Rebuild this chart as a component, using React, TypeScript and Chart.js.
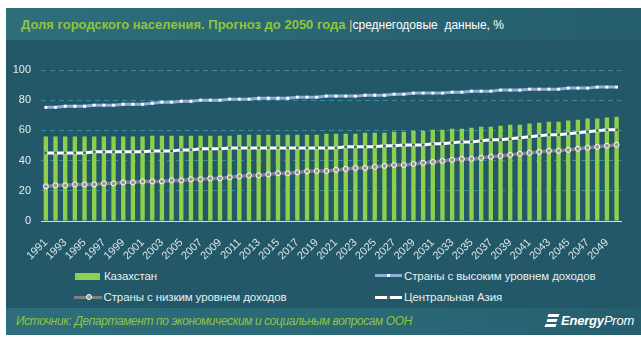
import React, { useEffect, useRef } from 'react';
import { Chart, registerables } from 'chart.js';

Chart.register(...registerables);

const years = [
  '1991','1992','1993','1994','1995','1996','1997','1998','1999','2000',
  '2001','2002','2003','2004','2005','2006','2007','2008','2009','2010',
  '2011','2012','2013','2014','2015','2016','2017','2018','2019','2020',
  '2021','2022','2023','2024','2025','2026','2027','2028','2029','2030',
  '2031','2032','2033','2034','2035','2036','2037','2038','2039','2040',
  '2041','2042','2043','2044','2045','2046','2047','2048','2049','2050',
];

const kazakhstan = [
  56.0, 56.0, 56.0, 56.0, 56.0, 56.0, 56.0, 56.0, 56.0, 56.0,
  56.0, 56.5, 56.5, 56.5, 56.5, 56.5, 56.5, 56.5, 56.5, 56.5,
  57.1, 57.1, 57.1, 57.1, 57.1, 57.1, 57.1, 57.1, 57.1, 57.8,
  57.8, 57.8, 57.8, 58.5, 58.5, 58.5, 59.1, 59.1, 59.8, 59.8,
  60.5, 60.5, 61.1, 61.1, 61.8, 62.5, 62.5, 63.1, 63.8, 63.8,
  64.5, 65.1, 65.8, 65.8, 66.5, 67.1, 67.8, 67.8, 68.5, 69.1,
];

const highIncome = [
  75.3, 75.3, 76.0, 76.0, 76.0, 76.7, 76.7, 76.7, 77.3, 77.3,
  77.3, 78.0, 78.7, 78.7, 79.3, 79.3, 80.0, 80.0, 80.0, 80.7,
  80.7, 80.7, 81.3, 81.3, 81.3, 81.3, 82.0, 82.0, 82.0, 82.7,
  82.7, 82.7, 82.7, 83.3, 83.3, 83.3, 84.0, 84.0, 84.7, 84.7,
  84.7, 84.7, 85.3, 85.3, 86.0, 86.0, 86.0, 86.7, 86.7, 86.7,
  87.3, 87.3, 87.3, 87.3, 88.0, 88.0, 88.0, 88.7, 88.7, 88.7,
];

const lowIncome = [
  22.9, 23.6, 23.6, 24.2, 24.2, 24.2, 24.9, 24.9, 25.6, 25.6,
  26.2, 26.2, 26.2, 26.9, 26.9, 27.6, 27.6, 28.2, 28.2, 28.9,
  29.6, 30.2, 30.2, 30.9, 31.6, 31.6, 32.2, 32.9, 33.1, 33.1,
  33.8, 34.5, 35.1, 35.1, 35.8, 36.5, 37.1, 37.1, 37.8, 38.5,
  39.1, 39.8, 40.5, 41.1, 41.1, 41.8, 42.5, 43.1, 43.8, 44.5,
  45.1, 45.8, 46.5, 46.5, 47.1, 47.8, 48.5, 49.1, 49.8, 50.5,
];

const centralAsia = [
  45.1, 45.1, 45.1, 45.1, 45.1, 45.8, 45.8, 45.8, 45.8, 45.8,
  45.8, 46.4, 46.4, 46.4, 47.1, 47.1, 47.8, 47.8, 47.8, 48.4,
  48.4, 48.4, 48.4, 48.4, 48.4, 48.4, 48.4, 48.4, 48.4, 48.4,
  48.4, 49.1, 49.1, 49.1, 49.1, 49.8, 49.8, 50.4, 50.4, 50.4,
  51.1, 51.1, 51.8, 52.4, 52.4, 53.1, 53.8, 53.8, 54.4, 55.1,
  55.8, 56.4, 57.1, 57.1, 57.8, 58.4, 59.1, 59.8, 60.4, 60.4,
];

const yTicks = [0, 20, 40, 60, 80, 100];

const seriesNames = [
  'Казахстан',
  'Страны с высоким уровнем доходов',
  'Страны с низким уровнем доходов',
  'Центральная Азия',
];

const FONT = '"Liberation Sans", Arial, sans-serif';
const BG = '#225868';
const GREEN = '#8fcf4c';
const HIGH = '#8eb0d8';
const LOW = '#7f7f7f';
const TXT = '#e8eef0';

function LineSwatch({ w, color, marker, markerBorder, round }: { w: number; color: string; marker: string; markerBorder?: string; round?: boolean }) {
  return (
    <div style={{ position: 'relative', width: w, height: 8 }}>
      <div style={{ position: 'absolute', left: 0, top: 2.5, width: w, height: 3, background: color }} />
      <div
        style={{
          position: 'absolute',
          left: round ? w / 2 - 2 : w / 2 - 1.5,
          top: round ? 1 : 2.5,
          width: round ? 4 : 3,
          height: round ? 4 : 3,
          borderRadius: round ? '50%' : 0,
          background: marker,
          border: markerBorder ? `1px solid ${markerBorder}` : 'none',
        }}
      />
    </div>
  );
}

export default function App() {
  const ref = useRef<HTMLCanvasElement>(null);

  useEffect(() => {
    const chart = new Chart(ref.current as HTMLCanvasElement, {
      type: 'bar',
      data: {
        labels: years,
        datasets: [
          {
            type: 'bar',
            label: seriesNames[0],
            data: kazakhstan,
            backgroundColor: GREEN,
            barPercentage: 0.45,
            categoryPercentage: 1,
            order: 2,
          },
          {
            type: 'line',
            label: seriesNames[1],
            data: highIncome,
            borderColor: HIGH,
            borderWidth: 3,
            pointStyle: 'rect',
            pointRadius: 2,
            pointBackgroundColor: '#ffffff',
            pointBorderWidth: 0,
            tension: 0,
            order: 1,
          },
          {
            type: 'line',
            label: seriesNames[2],
            data: lowIncome,
            borderColor: LOW,
            borderWidth: 3.5,
            pointStyle: 'circle',
            pointRadius: 2.5,
            pointBackgroundColor: '#9a9a9a',
            pointBorderColor: '#ffffff',
            pointBorderWidth: 1,
            tension: 0,
            order: 1,
          },
          {
            type: 'line',
            label: seriesNames[3],
            data: centralAsia,
            borderColor: '#ffffff',
            borderWidth: 3,
            pointStyle: 'rect',
            pointRadius: 2,
            pointBackgroundColor: '#3d6d7c',
            pointBorderWidth: 0,
            tension: 0,
            order: 1,
          },
        ],
      } as any,
      options: {
        animation: false,
        responsive: false,
        layout: { padding: { top: 22, right: 8, left: 0, bottom: 0 } },
        plugins: { legend: { display: false }, tooltip: { enabled: false } },
        scales: {
          x: {
            grid: { display: false, drawTicks: false },
            border: { color: '#d5dde0', width: 1 },
            ticks: {
              autoSkip: false,
              maxRotation: 45,
              minRotation: 45,
              padding: 15,
              color: '#dbe3e6',
              font: { size: 11, family: FONT },
              callback: (_v: any, i: number) => (i % 2 === 0 ? years[i] : ''),
            },
            afterFit: (s: any) => {
              s.height = 42;
            },
          },
          y: {
            min: 0,
            max: 100,
            afterBuildTicks: (s: any) => {
              s.ticks = yTicks.map((v) => ({ value: v }));
            },
            ticks: { padding: 10, color: TXT, font: { size: 11, family: FONT } },
            grid: {
              drawTicks: false,
              lineWidth: 1,
              color: (c: any) => (c.tick && c.tick.value === 0 ? 'rgba(0,0,0,0)' : '#3a8ca0'),
            },
            border: { display: false, dash: [5, 4] },
            afterFit: (s: any) => {
              s.width = 35;
            },
          },
        },
      } as any,
    });
    return () => chart.destroy();
  }, []);

  const legendText: React.CSSProperties = {
    position: 'absolute',
    fontFamily: FONT,
    fontSize: 11.5,
    color: TXT,
    letterSpacing: -0.1,
    whiteSpace: 'nowrap',
    lineHeight: '14px',
  };

  // container is at page (6, 8)
  return (
    <div
      style={{
        position: 'absolute',
        left: 6,
        top: 8,
        width: 635,
        height: 327,
        background: BG,
        overflow: 'hidden',
      }}
    >
      <div
        style={{
          position: 'absolute',
          left: 0,
          top: 0,
          width: 635,
          height: 32,
          background: 'linear-gradient(90deg, #2f6e7b 0%, #2a6675 50%, #245e6d 100%)',
        }}
      />
      <div
        style={{
          position: 'absolute',
          left: 15,
          top: 8,
          whiteSpace: 'pre',
          fontFamily: FONT,
          lineHeight: '16px',
        }}
      >
        <span style={{ color: '#8dc63f', fontWeight: 'bold', fontSize: 13 }}>
          {'Доля городского населения. Прогноз до 2050 года '}
        </span>
        <span style={{ color: '#f0b58a', fontSize: 13 }}>|</span>
        <span style={{ color: '#ffffff', fontSize: 12 }}>{'среднегодовые  данные, %'}</span>
      </div>

      <canvas
        ref={ref}
        width={635}
        height={215}
        style={{ position: 'absolute', left: 0, top: 40, width: 635, height: 215 }}
      />

      {/* legend (container coords = page - (6, 8)) */}
      <div style={{ position: 'absolute', left: 69, top: 264.5, width: 25, height: 7, background: GREEN }} />
      <div style={{ ...legendText, left: 98, top: 260.5 }}>{seriesNames[0]}</div>

      <div style={{ position: 'absolute', left: 369, top: 263.5 }}>
        <LineSwatch w={27} color={HIGH} marker="#ffffff" />
      </div>
      <div style={{ ...legendText, left: 398, top: 260.5 }}>{seriesNames[1]}</div>

      <div style={{ position: 'absolute', left: 68, top: 285 }}>
        <LineSwatch w={28} color={LOW} marker="#9a9a9a" markerBorder="#ffffff" round />
      </div>
      <div style={{ ...legendText, left: 97.5, top: 282 }}>{seriesNames[2]}</div>

      <div style={{ position: 'absolute', left: 369, top: 285 }}>
        <LineSwatch w={27} color="#ffffff" marker="#3d6d7c" />
      </div>
      <div style={{ ...legendText, left: 398, top: 282 }}>{seriesNames[3]}</div>

      {/* footer */}
      <div
        style={{
          position: 'absolute',
          left: 0,
          top: 300,
          width: 635,
          height: 27,
          background: 'linear-gradient(90deg, #2e6d7b 0%, #2b6877 60%, #245f6e 100%)',
        }}
      />
      <div
        style={{
          position: 'absolute',
          left: 10,
          top: 306,
          fontFamily: FONT,
          fontStyle: 'italic',
          fontSize: 12,
          letterSpacing: -0.4,
          color: '#8dc63f',
          whiteSpace: 'nowrap',
          lineHeight: '14px',
        }}
      >
        Источник: Департамент по экономическим и социальным вопросам ООН
      </div>
      <div style={{ position: 'absolute', left: 539, top: 306, width: 14, height: 13 }}>
        <div style={{ position: 'absolute', left: 3, top: 0, width: 11, height: 3, background: '#ffffff', transform: 'skewX(-20deg)' }} />
        <div style={{ position: 'absolute', left: 1.5, top: 5, width: 10, height: 3, background: '#ffffff', transform: 'skewX(-20deg)' }} />
        <div style={{ position: 'absolute', left: 0, top: 10, width: 11, height: 3, background: '#ffffff', transform: 'skewX(-20deg)' }} />
      </div>
      <div
        style={{
          position: 'absolute',
          left: 555,
          top: 304.5,
          fontFamily: FONT,
          fontStyle: 'italic',
          fontSize: 13,
          color: '#ffffff',
          whiteSpace: 'nowrap',
          lineHeight: '16px',
          letterSpacing: -0.2,
        }}
      >
        <span style={{ fontWeight: 'bold' }}>Energy</span>
        <span>Prom</span>
      </div>
    </div>
  );
}
